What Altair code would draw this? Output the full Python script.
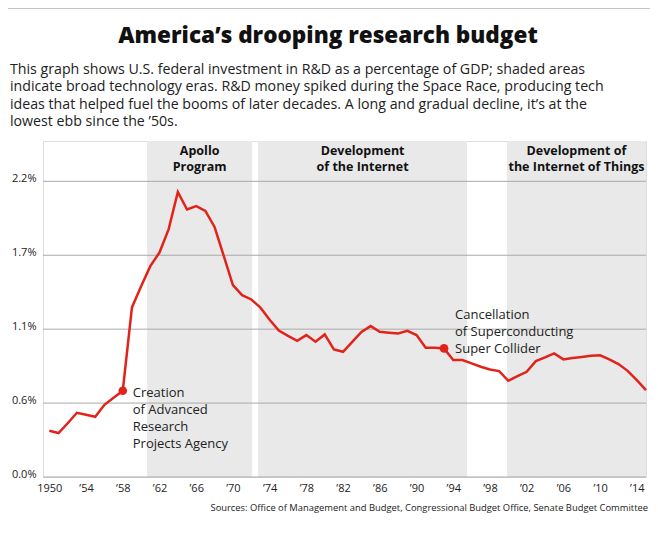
import altair as alt
import pandas as pd

# ---------------- data ----------------
years = list(range(1950, 2016))
rd_share = [0.344, 0.327, 0.40, 0.478, 0.463, 0.448, 0.537, 0.59, 0.642, 1.262,
            1.42, 1.569, 1.67, 1.844, 2.121, 1.99, 2.015, 1.98, 1.861, 1.645,
            1.428, 1.353, 1.321, 1.26, 1.17, 1.09, 1.05, 1.013, 1.056, 1.006,
            1.061, 0.949, 0.932, 1.006, 1.08, 1.123, 1.08, 1.074, 1.068, 1.088,
            1.056, 0.961, 0.961, 0.957, 0.87, 0.87, 0.845, 0.82, 0.80, 0.788,
            0.716, 0.75, 0.783, 0.862, 0.89, 0.92, 0.875, 0.885, 0.893, 0.902,
            0.905, 0.875, 0.84, 0.79, 0.72, 0.647]

era_labels = [["Apollo", "Program"],
              ["Development", "of the Internet"],
              ["Development of", "the Internet of Things"]]
era_start = [1960.65, 1972.75, 1999.85]
era_end = [1972.1, 1995.5, 2015.0]

event_years = [1958, 1993]
event_labels = [["Creation", "of Advanced", "Research", "Projects Agency"],
                ["Cancellation", "of Superconducting", "Super Collider"]]

y_ticks = [0, 0.55, 1.1, 1.65, 2.2]
y_tick_labels = ["0.0%", "0.6%", "1.1%", "1.7%", "2.2%"]
x_ticks = [1950, 1954, 1958, 1962, 1966, 1970, 1974, 1978, 1982, 1986,
           1990, 1994, 1998, 2002, 2006, 2010, 2014]
x_tick_labels = ["1950", "’54", "’58", "’62", "’66", "’70", "’74", "’78", "’82",
                 "’86", "’90", "’94", "’98", "’02", "’06", "’10", "’14"]

title_text = "America’s drooping research budget"
subtitle_lines = [
    "This graph shows U.S. federal investment in R&D as a percentage of GDP; shaded areas",
    "indicate broad technology eras. R&D money spiked during the Space Race, producing tech",
    "ideas that helped fuel the booms of later decades. A long and gradual decline, it’s at the",
    "lowest ebb since the ’50s.",
]
source_text = "Sources: Office of Management and Budget, Congressional Budget Office, Senate Budget Committee"

# ---------------- tables ----------------
df = pd.DataFrame({"year": years, "share": rd_share})
eras = pd.DataFrame({"start": era_start, "end": era_end,
                     "label": era_labels, "top": 2.5, "bottom": 0.0})
eras["mid"] = (eras["start"] + eras["end"]) / 2
events = pd.DataFrame({"year": event_years,
                       "share": [rd_share[years.index(y)] for y in event_years],
                       "label": event_labels})
grid = pd.DataFrame({"v": y_ticks})


def ternary(vals, labs):
    expr = "''"
    for v, l in reversed(list(zip(vals, labs))):
        expr = f"datum.value == {v} ? '{l}' : ({expr})"
    return expr


W, H = 603, 336
RED = "#e2231a"
FONT = "Open Sans"

xscale = alt.Scale(domain=[1949.31, 2015], nice=False, zero=False)
yscale = alt.Scale(domain=[0, 2.5], nice=False)
xaxis = alt.Axis(values=x_ticks, labelExpr=ternary(x_ticks, x_tick_labels), title=None,
                 domain=False, ticks=False, grid=False, labelPadding=5,
                 labelFont=FONT, labelFontSize=11, labelColor="#222")
yaxis = alt.Axis(values=y_ticks, labelExpr=ternary(y_ticks, y_tick_labels), title=None,
                 domain=False, ticks=False, grid=False, labelPadding=7,
                 labelBaseline="middle", labelOffset=-3,
                 labelFont=FONT, labelFontSize=11, labelColor="#222")


def X(field):
    return alt.X(field, type="quantitative", scale=xscale, axis=xaxis)


def Y(field):
    return alt.Y(field, type="quantitative", scale=yscale, axis=yaxis)


bands = alt.Chart(eras).mark_rect(color="#e9e9e9").encode(
    x=X("start"), x2="end", y=Y("top"), y2="bottom",
)

band_text = alt.Chart(eras).mark_text(
    font=FONT, fontSize=12.5, fontWeight="bold", color="#111",
    align="center", baseline="alphabetic", lineHeight=15.5,
).encode(x=X("mid"), y=alt.value(14), text="label")

grid_rules = alt.Chart(grid).mark_rule(color="#a9a9a9", strokeWidth=1).encode(y=Y("v"))

line = alt.Chart(df).mark_line(color=RED, strokeWidth=2.5, strokeJoin="miter").encode(
    x=X("year"), y=Y("share"),
)

dots = alt.Chart(events).mark_circle(color=RED, opacity=1, size=75).encode(
    x=X("year"), y=Y("share"),
)

ev1 = alt.Chart(events.iloc[[0]]).mark_text(
    font=FONT, fontSize=13, color="#222", align="left", baseline="alphabetic",
    lineHeight=17, dx=10, dy=6,
).encode(x=X("year"), y=Y("share"), text="label")

ev2 = alt.Chart(events.iloc[[1]]).mark_text(
    font=FONT, fontSize=13, color="#222", align="left", baseline="alphabetic",
    lineHeight=17, dx=11, dy=-29,
).encode(x=X("year"), y=Y("share"), text="label")

title = alt.Chart(pd.DataFrame({"t": [title_text]})).mark_text(
    font=FONT, fontSize=22.5, fontWeight=800, color="#111", align="center", baseline="alphabetic",
).encode(x=alt.value(285), y=alt.value(-98.5), text="t")

subtitle = alt.Chart(pd.DataFrame({"t": [subtitle_lines]})).mark_text(
    font=FONT, fontSize=14.2, color="#222", align="left", baseline="alphabetic", lineHeight=17.5,
).encode(x=alt.value(-33), y=alt.value(-67.5), text="t")

source = alt.Chart(pd.DataFrame({"t": [source_text]})).mark_text(
    font=FONT, fontSize=9.4, color="#222", align="right", baseline="alphabetic",
).encode(x=alt.value(605), y=alt.value(370), text="t")

top_rule = alt.Chart(pd.DataFrame({"a": [0]})).mark_rule(color="#c4c4c4", strokeWidth=1).encode(
    x=alt.value(-35), x2=alt.value(607), y=alt.value(-132.5),
)

chart = alt.layer(
    bands, grid_rules, band_text, line, dots, ev1, ev2, title, subtitle, source, top_rule
).properties(
    width=W, height=H,
    autosize=alt.AutoSizeParams(type="none"),
    padding={"left": 35, "top": 133, "right": 4, "bottom": 50},
    background="white",
).configure_view(stroke=None).configure(font=FONT)

chart.save("out.html", embed_options={"renderer": "svg", "actions": False})
